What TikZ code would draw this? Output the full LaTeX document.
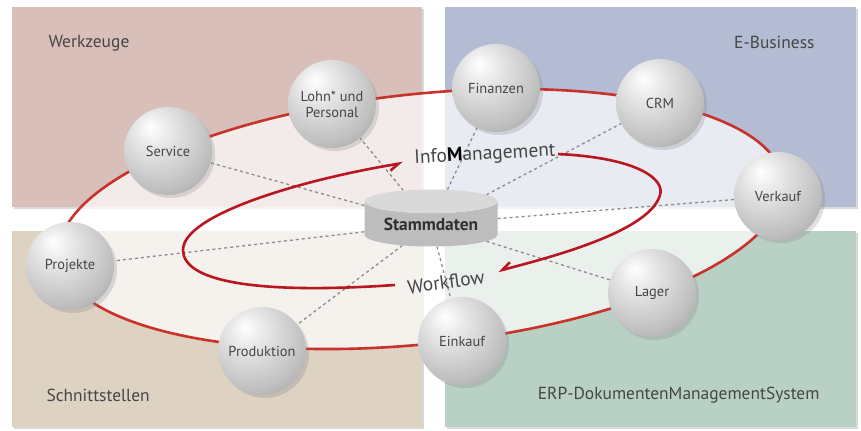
\documentclass[tikz,border=0pt]{standalone}
\usepackage{fontspec}
\setmainfont{PT Sans}
\usetikzlibrary{shapes.geometric}
\usetikzlibrary{shadows}
\usetikzlibrary{arrows.meta}

\definecolor{werkzeugrot}{RGB}{217,191,186}
\definecolor{ebusblau}{RGB}{180,188,211}
\definecolor{schnittbeige}{RGB}{222,210,195}
\definecolor{erpgruen}{RGB}{185,209,197}
\definecolor{ringrot}{RGB}{200,50,42}
\definecolor{pfeilrot}{RGB}{185,22,32}
\definecolor{textgrau}{RGB}{70,70,70}
\definecolor{liniengrau}{RGB}{140,140,140}

\pgfdeclareradialshading{kugelschatten}{\pgfpoint{-10bp}{14bp}}{%
  color(0bp)=(white); color(10bp)=(black!9); color(30bp)=(black!25);
  color(48bp)=(black!45); color(62bp)=(black!58); color(72bp)=(black!50)}

\pgfdeclarelayer{hinten}
\pgfsetlayers{hinten,main}

\tikzset{
    feld/.style={drop shadow={opacity=0.3, shadow xshift=2bp, shadow yshift=-2bp}},
    bereich/.style={text=textgrau, font=\fontsize{17.5}{19}\selectfont},
    kugel/.style={circle, minimum size=88bp, inner sep=0pt, shading=kugelschatten,
        align=center, text=textgrau, font=\fontsize{14.5}{16}\selectfont,
        drop shadow={opacity=0.25, shadow xshift=3bp, shadow yshift=-3bp}},
    zylinder/.style={cylinder, shape border rotate=90, aspect=0.25,
        minimum width=133bp, minimum height=57bp, inner sep=0pt,
        cylinder uses custom fill, cylinder body fill=black!26, cylinder end fill=black!15,
        text=textgrau!70!black, font=\bfseries\fontsize{17.5}{18}\selectfont},
    verbindung/.style={draw=liniengrau, line width=1.3bp, dash pattern=on 3bp off 3bp},
    pfeil/.style={draw=pfeilrot, line width=2.6bp,
        -{Straight Barb[harpoon, swap, length=9bp, width=11bp]}},
    mitte/.style={text=textgrau, font=\fontsize{19.5}{21}\selectfont}
}

\begin{document}
\begin{tikzpicture}[x=1bp, y=1bp]
\useasboundingbox (0,0) rectangle (861,430);

\node[zylinder] (stamm) at (431,206) {Stammdaten};

\node[kugel] (projekte) at (70,164) {Projekte};
\node[kugel] (service) at (168,279) {Service};
\node[kugel] (lohn) at (332,326) {Lohn* und\\Personal};
\node[kugel] (finanzen) at (496,342) {Finanzen};
\node[kugel] (crm) at (660,327) {CRM};
\node[kugel] (verkauf) at (778,234) {Verkauf};
\node[kugel] (lager) at (652,137) {Lager};
\node[kugel] (einkauf) at (462,89) {Einkauf};
\node[kugel] (produktion) at (262,79) {Produktion};

\node[mitte, rotate=3] (info) at (485,275) {Info{\color{black}\bfseries M}anagement};
\node[mitte, rotate=8] (workflow) at (446,148) {Workflow};

\node[bereich, anchor=west] (werkzeuge) at (45,387) {Werkzeuge};
\node[bereich, anchor=east] (ebusiness) at (818,388) {E-Business};
\node[bereich, anchor=west] (schnittstellen) at (43,35) {Schnittstellen};
\node[bereich, anchor=east] (erp) at (823,35) {ERP-DokumentenManagementSystem};

\coordinate (wstart) at (395,145);
\coordinate (wende) at (403,267);
\coordinate (istart) at (558,276);
\coordinate (iende) at (498,159);
\draw[style={pfeil}]
  (wstart) .. controls (250,135) and (183,150) .. (183,180)
  .. controls (183,215) and (300,250) .. (wende);
\draw[style={pfeil}]
  (istart) .. controls (640,272) and (665,250) .. (660,235)
  .. controls (650,200) and (560,175) .. (iende);

\begin{pgfonlayer}{hinten}
\fill[werkzeugrot, style={feld}] (12,223) rectangle (422,423);
\fill[ebusblau, style={feld}] (445,223) rectangle (856,423);
\fill[schnittbeige, style={feld}] (12,3) rectangle (422,199);
\fill[erpgruen, style={feld}] (445,3) rectangle (856,199);
\path[rotate around={6:(421,211)}, fill=white, fill opacity=0.7, draw=ringrot, line width=2.6bp]
  (421,211) ellipse [x radius=364, y radius=125];
\draw[style={verbindung}] (stamm) -- (projekte);
\draw[style={verbindung}] (stamm) -- (service);
\draw[style={verbindung}] (stamm) -- (lohn);
\draw[style={verbindung}] (stamm) -- (finanzen);
\draw[style={verbindung}] (stamm) -- (crm);
\draw[style={verbindung}] (stamm) -- (verkauf);
\draw[style={verbindung}] (stamm) -- (lager);
\draw[style={verbindung}] (stamm) -- (einkauf);
\draw[style={verbindung}] (stamm) -- (produktion);
\end{pgfonlayer}
\end{tikzpicture}
\end{document}
